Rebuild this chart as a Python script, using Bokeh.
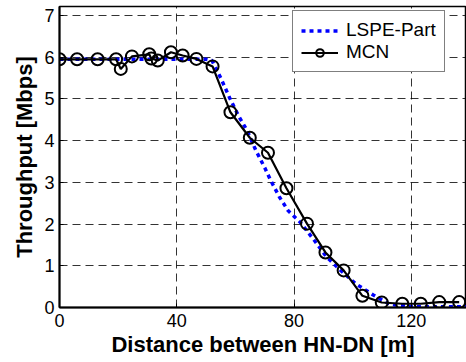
from bokeh.plotting import figure
from bokeh.models import Range1d, FixedTicker, Legend, LegendItem
from bokeh.embed import file_html
from bokeh.resources import INLINE

# LSPE-Part (blue dotted)
lspe_x = [0, 5, 10, 15, 20, 25, 30, 35, 40, 45, 50, 52, 55, 58, 61, 64, 67, 70, 72, 75, 78, 82, 87, 91, 96, 101, 107, 112, 115, 120, 125, 130, 135, 139]
lspe_y = [5.95, 5.95, 5.95, 5.95, 5.95, 5.95, 5.95, 5.95, 5.95, 5.95, 5.95, 5.92, 5.5, 5.03, 4.6, 4.24, 3.76, 3.35, 3.05, 2.65, 2.32, 2.05, 1.6, 1.22, 0.88, 0.57, 0.3, 0.1, 0.05, 0.02, 0.02, 0.02, 0.02, 0.02]

# MCN (black line with circles)
mcn_x = [0, 6, 13, 19.3, 20.9, 24.7, 30.6, 31.3, 33.5, 38.0, 42.0, 46.7, 52.2, 58.3, 64.9, 71.1, 77.4, 84.4, 90.7, 96.9, 103.3, 109.9, 116.9, 123.2, 129.5, 136.3]
mcn_y = [5.95, 5.95, 5.95, 5.95, 5.72, 6.02, 6.07, 5.97, 5.92, 6.12, 6.04, 5.96, 5.78, 4.68, 4.07, 3.71, 2.86, 2.01, 1.32, 0.89, 0.28, 0.12, 0.09, 0.09, 0.13, 0.13]

x_ticks = [0, 40, 80, 120]
y_ticks = [0, 1, 2, 3, 4, 5, 6, 7]

FONT = "Liberation Sans"

p = figure(width=466, height=362, output_backend="svg", toolbar_location=None,
           x_range=Range1d(0, 138.8), y_range=Range1d(0, 7.216),
           min_border_left=59, min_border_right=0, min_border_top=6, min_border_bottom=55)

p.outline_line_color = "black"
p.outline_line_width = 1.5

for ax in (p.xaxis[0], p.yaxis[0]):
    ax.axis_line_color = "black"
    ax.axis_line_width = 2
    ax.major_tick_in = 4
    ax.major_tick_out = 0
    ax.minor_tick_line_color = None
    ax.major_label_text_font = FONT
    ax.major_label_text_font_size = "18px"
    ax.major_label_text_color = "black"
    ax.axis_label_text_font = FONT
    ax.axis_label_text_font_size = "22px"
    ax.axis_label_text_font_style = "bold"
    ax.axis_label_text_color = "black"

p.xaxis.ticker = FixedTicker(ticks=x_ticks)
p.yaxis.ticker = FixedTicker(ticks=y_ticks)
p.xaxis.axis_label = "Distance between HN-DN [m]"
p.yaxis.axis_label = "Throughput [Mbps]"
p.xaxis.major_label_standoff = 6
p.yaxis.major_label_standoff = 5
p.xaxis.axis_label_standoff = 2
p.yaxis.axis_label_standoff = 4

for g in (p.xgrid[0], p.ygrid[0]):
    g.grid_line_color = "black"
    g.grid_line_alpha = 0.8
    g.grid_line_width = 1
    g.grid_line_dash = "8 5"

r1 = p.line(lspe_x, lspe_y, line_color="#0000FF", line_width=3.5, line_dash="4 4")
r2 = p.line(mcn_x, mcn_y, line_color="black", line_width=2.2)
r3 = p.scatter(mcn_x, mcn_y, marker="circle", size=12, fill_color=None, line_color="black", line_width=2)

legend = Legend(items=[LegendItem(label="LSPE-Part", renderers=[r1]),
                       LegendItem(label="MCN", renderers=[r2, r3])],
                location=(233, 235))
legend.label_text_font = FONT
legend.label_text_font_size = "19px"
legend.label_text_color = "black"
legend.glyph_width = 37
legend.glyph_height = 19
legend.label_height = 19
legend.spacing = 0
legend.padding = 8
legend.margin = 0
legend.label_standoff = 8
legend.border_line_color = "black"
legend.border_line_width = 1
legend.background_fill_color = "white"
legend.background_fill_alpha = 1
p.add_layout(legend, "center")

open("out.html", "w").write(file_html(p, INLINE))
